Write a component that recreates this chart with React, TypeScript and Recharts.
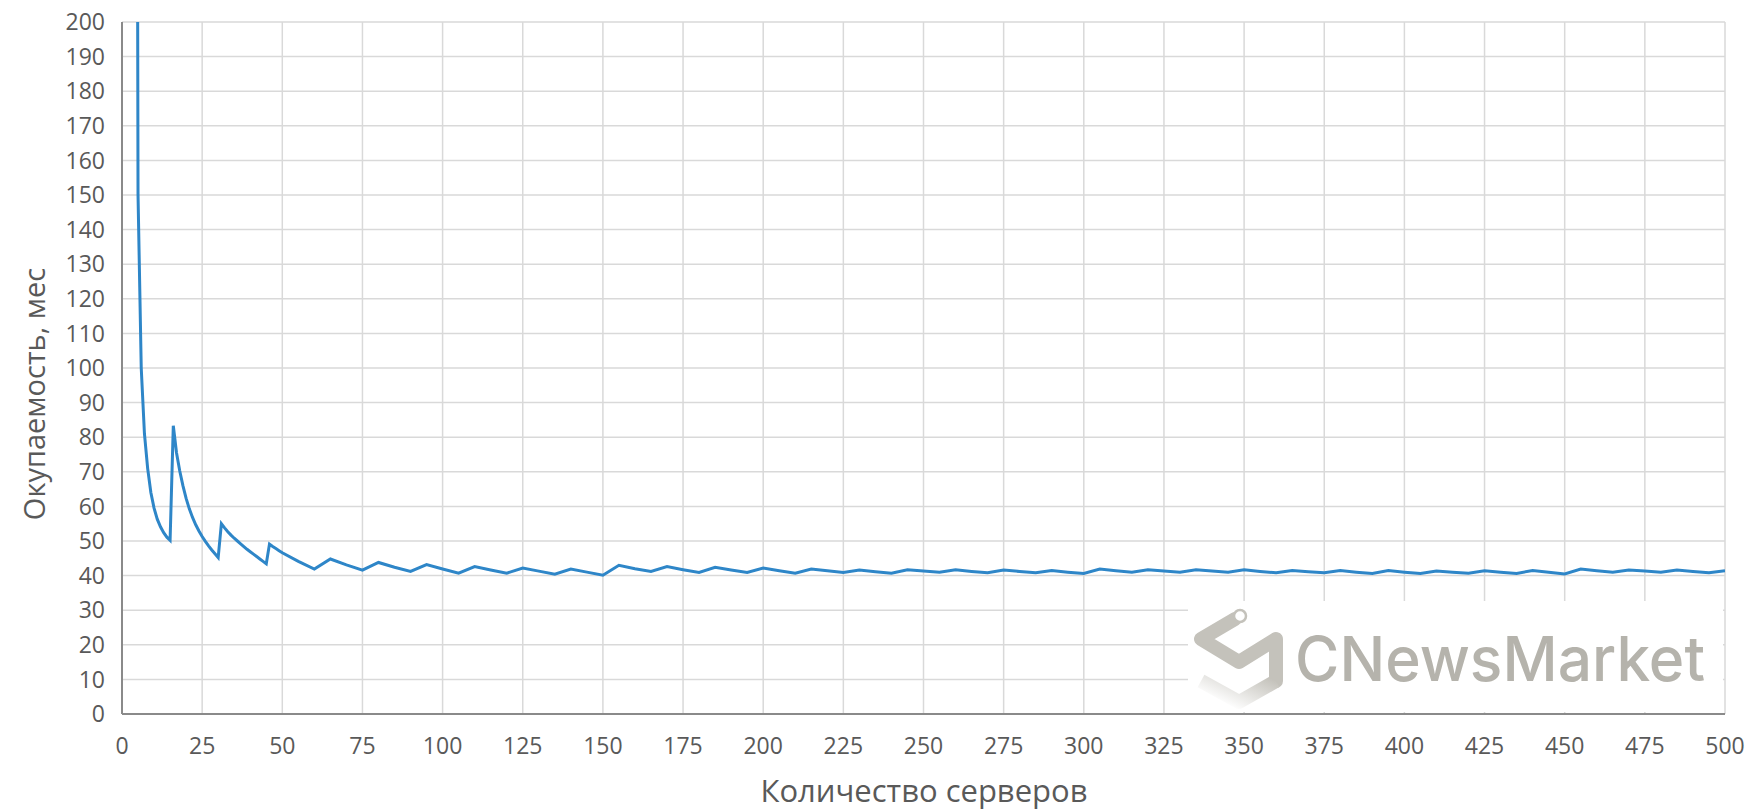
import React from 'react';
import { LineChart, Line, XAxis, YAxis, CartesianGrid, Label } from 'recharts';

const servers = [
  4, 5, 6, 7, 8, 9, 10, 11, 12, 13, 14, 15, 16, 17, 18, 19, 20, 21, 22, 23, 24, 25, 26, 27, 28, 29, 30,
  31, 32, 33, 34, 35, 36, 37, 38, 39, 40, 41, 42, 43, 44, 45, 46, 47, 48, 49, 50,
  55, 60, 65, 70, 75, 80, 85, 90, 95, 100, 105, 110, 115, 120, 125, 130, 135, 140, 145, 150,
  155, 160, 165, 170, 175, 180, 185, 190, 195, 200, 205, 210, 215, 220, 225, 230, 235, 240, 245, 250,
  255, 260, 265, 270, 275, 280, 285, 290, 295, 300, 305, 310, 315, 320, 325, 330, 335, 340, 345, 350,
  355, 360, 365, 370, 375, 380, 385, 390, 395, 400, 405, 410, 415, 420, 425, 430, 435, 440, 445, 450,
  455, 460, 465, 470, 475, 480, 485, 490, 495, 500,
];

const payback = [
  600, 150, 100, 81, 71, 64, 59.5, 56.3, 54.1, 52.4, 51.1, 50.2, 83.3, 75.5, 70.3, 66, 62.3, 59.3, 56.8, 54.7, 52.9, 51.3, 49.9, 48.6, 47.4, 46.3, 45.2,
  55, 53.8, 52.7, 51.7, 50.8, 50.0, 49.2, 48.4, 47.6, 46.9, 46.2, 45.5, 44.8, 44.1, 43.4, 49.1, 48.4, 47.8, 47.2, 46.6,
  44.1, 41.9, 44.8, 43.1, 41.6, 43.8, 42.4, 41.2, 43.2, 41.9, 40.7, 42.6, 41.6, 40.7, 42.2, 41.3, 40.4, 41.9, 41.0, 40.1,
  43.0, 42.0, 41.2, 42.6, 41.7, 40.9, 42.4, 41.6, 40.9, 42.2, 41.4, 40.7, 41.9, 41.4, 40.9, 41.6, 41.1, 40.7, 41.7, 41.3,
  41.0, 41.7, 41.2, 40.8, 41.6, 41.2, 40.8, 41.5, 41.0, 40.6, 41.9, 41.4, 41.0, 41.7, 41.3, 41.0, 41.7, 41.3, 41.0, 41.7,
  41.2, 40.8, 41.5, 41.1, 40.8, 41.5, 41.0, 40.6, 41.5, 41.0, 40.6, 41.3, 41.0, 40.7, 41.4, 41.0, 40.6, 41.5, 41.0, 40.5,
  41.9, 41.4, 41.0, 41.6, 41.3, 41.0, 41.6, 41.2, 40.8, 41.4,
];

const xTicks = [0, 25, 50, 75, 100, 125, 150, 175, 200, 225, 250, 275, 300, 325, 350, 375, 400, 425, 450, 475, 500];
const yTicks = [0, 10, 20, 30, 40, 50, 60, 70, 80, 90, 100, 110, 120, 130, 140, 150, 160, 170, 180, 190, 200];
const xTitle = 'Количество серверов';
const yTitle = 'Окупаемость, мес';
const brand = 'CNewsMarket';

const data = servers.map((s, i) => ({ servers: s, payback: payback[i] }));

const FONT = "'Open Sans', 'Noto Sans', sans-serif";
const TEXT = '#595959';

export default function App() {
  return (
    <div style={{ position: 'absolute', left: 0, top: 0, width: 1750, height: 812, background: '#fff' }}>
      <LineChart
        width={1750}
        height={812}
        data={data}
        margin={{ top: 22, right: 25, bottom: 0, left: 0 }}
      >
        <CartesianGrid stroke="#d9d9d9" strokeWidth={1.5} />
        <XAxis
          dataKey="servers"
          type="number"
          domain={[0, 500]}
          ticks={xTicks}
          interval={0}
          allowDataOverflow
          height={98}
          tickLine={false}
          tickMargin={18}
          axisLine={{ stroke: '#8a8a8a', strokeWidth: 2 }}
          tick={{ fill: TEXT, fontSize: 23, fontFamily: FONT }}
        >
          <Label
            content={() => (
              <text x={924} y={790} textAnchor="middle" dominantBaseline="central" fill={TEXT} fontSize={31} fontFamily={FONT}>
                {xTitle}
              </text>
            )}
          />
        </XAxis>
        <YAxis
          type="number"
          domain={[0, 200]}
          ticks={yTicks}
          interval={0}
          allowDataOverflow
          width={122}
          tickLine={false}
          tickMargin={11}
          axisLine={{ stroke: '#8a8a8a', strokeWidth: 2 }}
          tick={{ fill: TEXT, fontSize: 23, fontFamily: FONT }}
        >
          <Label
            content={() => (
              <text
                x={33}
                y={394}
                transform="rotate(-90, 33, 394)"
                textAnchor="middle"
                dominantBaseline="central"
                fill={TEXT}
                fontSize={29}
                fontFamily={FONT}
              >
                {yTitle}
              </text>
            )}
          />
        </YAxis>
        <Line
          type="linear"
          dataKey="payback"
          stroke="#2E86C8"
          strokeWidth={3}
          dot={false}
          activeDot={false}
          isAnimationActive={false}
        />
      </LineChart>
      <div style={{ position: 'absolute', left: 1188, top: 601, width: 535, height: 111, background: '#fff' }}>
        <svg width={535} height={111}>
          <defs>
            <linearGradient id="fade" x1="1" y1="0" x2="0" y2="0.6">
              <stop offset="0" stopColor="#c4c2bb" />
              <stop offset="1" stopColor="#ffffff" />
            </linearGradient>
          </defs>
          <polyline
            points="47,18 13,38 51,61 88,38 88,80"
            fill="none"
            stroke="#c4c2bb"
            strokeWidth={14}
            strokeLinejoin="round"
            strokeLinecap="round"
          />
          <polyline
            points="88,80 51,101 13,80"
            fill="none"
            stroke="url(#fade)"
            strokeWidth={14}
            strokeLinejoin="round"
          />
          <circle cx={52} cy={15} r={6} fill="#fff" stroke="#c4c2bb" strokeWidth={2.5} />
          <text
            x={107}
            y={80}
            fill="#b5b3ac"
            fontSize={62}
            fontWeight={500}
            fontFamily="Inter, 'Noto Sans', sans-serif"
            textLength={410}
            lengthAdjust="spacingAndGlyphs"
          >
            {brand}
          </text>
        </svg>
      </div>
    </div>
  );
}
